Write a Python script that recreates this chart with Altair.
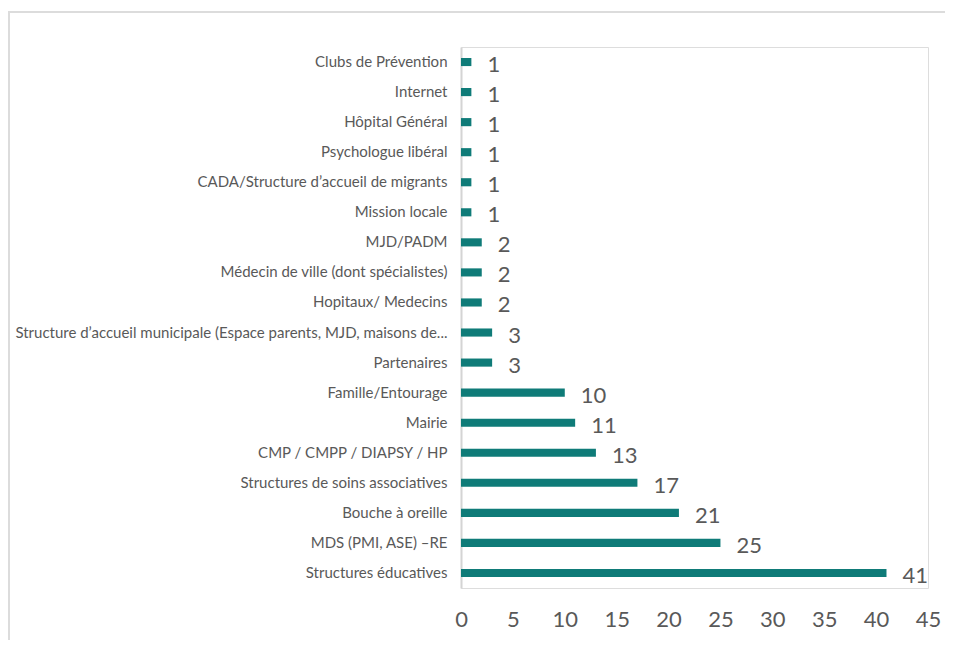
import altair as alt
import pandas as pd

categories = [
    "Clubs de Prévention",
    "Internet",
    "Hôpital Général",
    "Psychologue libéral",
    "CADA/Structure d’accueil de migrants",
    "Mission locale",
    "MJD/PADM",
    "Médecin de ville (dont spécialistes)",
    "Hopitaux/ Medecins",
    "Structure d’accueil municipale (Espace parents, MJD, maisons de...",
    "Partenaires",
    "Famille/Entourage",
    "Mairie",
    "CMP / CMPP / DIAPSY / HP",
    "Structures de soins associatives",
    "Bouche à oreille",
    "MDS (PMI, ASE) –RE",
    "Structures éducatives",
]
values = [1, 1, 1, 1, 1, 1, 2, 2, 2, 3, 3, 10, 11, 13, 17, 21, 25, 41]
x_ticks = [0, 5, 10, 15, 20, 25, 30, 35, 40, 45]

df = pd.DataFrame({"cat": categories, "val": values})

TEAL = "#0f7b78"
GRAY = "#595959"

y_enc = alt.Y("cat:N", sort=categories,
              scale=alt.Scale(paddingInner=0.73, paddingOuter=0.365),
              axis=alt.Axis(title=None, ticks=False, labelPadding=14,
                            labelFontSize=15, labelColor=GRAY, labelFont="Lato",
                            labelLimit=600, domainColor="#d4d4d4", domainWidth=2))
x_enc = alt.X("val:Q", scale=alt.Scale(domain=[0, 45], nice=False),
              axis=alt.Axis(title=None, values=x_ticks, domain=False, ticks=False,
                            grid=False, labelFontSize=22, labelColor=GRAY,
                            labelFont="Lato", labelPadding=21, labelFlush=False))

base = alt.Chart(df)
bars = base.mark_bar(color=TEAL).encode(x=x_enc, y=y_enc)
labels = base.mark_text(align="left", baseline="middle", dx=16, dy=3,
                        fontSize=22, color=GRAY, font="Lato").encode(
    x="val:Q", y=alt.Y("cat:N", sort=categories), text="val:Q")

frame_top = alt.Chart(df).mark_rule(color="#dcdcdc", strokeWidth=2).encode(
    x=alt.value(-460), x2=alt.value(600), y=alt.value(-35))
frame_left = alt.Chart(df).mark_rule(color="#dcdcdc", strokeWidth=2).encode(
    x=alt.value(-452), y=alt.value(-35), y2=alt.value(650))

chart = alt.layer(frame_top, frame_left, bars, labels).properties(
    width=467, height=541,
    padding={"left": 453, "top": 39, "right": 17, "bottom": 52},
    autosize=alt.AutoSizeParams(type="none"),
).configure_view(stroke=None).configure(background="white")

chart.save("out.html", embed_options={"renderer": "svg", "actions": False})
